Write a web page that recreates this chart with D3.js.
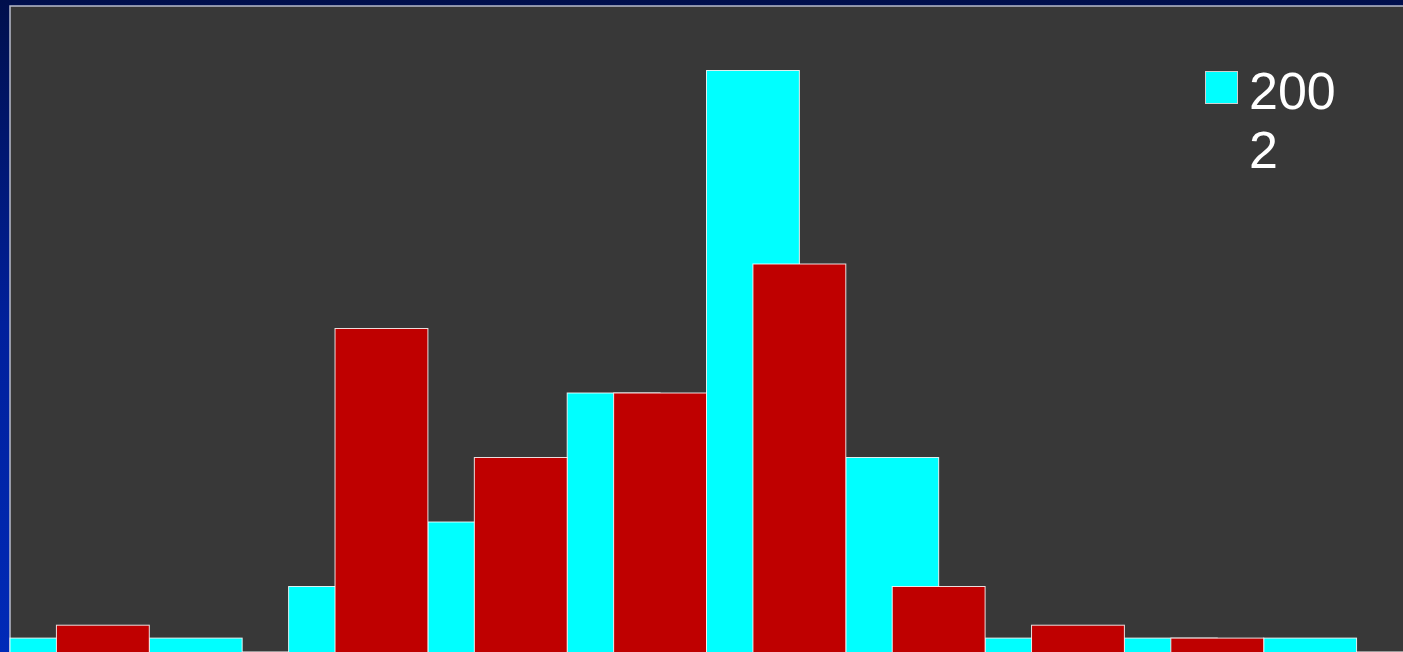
<!DOCTYPE html>
<html><head><meta charset="utf-8">
<script src="https://cdn.jsdelivr.net/npm/d3@7"></script>
<style>html,body{margin:0;padding:0;overflow:hidden;background:#001050}</style>
</head><body>
<svg id="c" width="1403" height="652"></svg>
<script>
const categories = ["1","2","3","4","5","6","7","8","9","10"];
const series2002 = [1,1,5,10,20,45,15,1,1,1];
const seriesOther = [2,0,25,15,20,30,5,2,1,0];
const legendLines = ["200","2"];

(function(){
const W = 1403, H = 652;
const svg = d3.select("#c");
const defs = svg.append("defs");
const grad = defs.append("linearGradient").attr("id","bg").attr("x1",0).attr("y1",0).attr("x2",0).attr("y2",1);
grad.append("stop").attr("offset","0%").attr("stop-color","#000f4c");
grad.append("stop").attr("offset","50%").attr("stop-color","#00209c");
grad.append("stop").attr("offset","100%").attr("stop-color","#002ab8");
svg.append("rect").attr("width",W).attr("height",H).attr("fill","url(#bg)");

const pLeft = 10, pTop = 6, pRight = 1403, pBottom = 651;
svg.append("rect").attr("x",pLeft).attr("y",pTop).attr("width",pRight-pLeft+5).attr("height",pBottom-pTop+5)
  .attr("fill","#383838").attr("stroke","#b8bccc").attr("stroke-width",1.5);
svg.append("line").attr("x1",pLeft).attr("x2",pRight).attr("y1",pBottom+0.5).attr("y2",pBottom+0.5)
  .attr("stroke","#9a9a9a").attr("stroke-width",1);

const x = d3.scaleBand().domain(categories).range([pLeft, pRight]).paddingInner(0).paddingOuter(0);
const y = d3.scaleLinear().domain([0,50]).range([pBottom, pTop]);
const bw = x.bandwidth() / 1.5;

const g = svg.append("g");
g.selectAll("rect.a").data(categories).join("rect").attr("class","a")
  .attr("x", d => x(d))
  .attr("y", (d,i) => y(series2002[i]))
  .attr("width", bw)
  .attr("height", (d,i) => y(0) - y(series2002[i]) + 2)
  .attr("fill","#00ffff").attr("stroke","#ffffff").attr("stroke-opacity",0.85).attr("stroke-width",1);
const redData = categories.map((c,i) => ({c, v: seriesOther[i]})).filter(d => d.v > 0);
g.selectAll("rect.b").data(redData).join("rect").attr("class","b")
  .attr("x", d => x(d.c) + bw/2)
  .attr("y", d => y(d.v))
  .attr("width", bw)
  .attr("height", d => y(0) - y(d.v) + 2)
  .attr("fill","#bf0000").attr("stroke","#ffffff").attr("stroke-opacity",0.85).attr("stroke-width",1);

const lg = svg.append("g");
lg.append("rect").attr("x",1205.5).attr("y",71.5).attr("width",32).attr("height",32)
  .attr("fill","#00ffff").attr("stroke","#d0d0d0").attr("stroke-width",1);
lg.append("text").attr("x",1249).attr("y",109).attr("fill","#ffffff")
  .attr("font-family","Liberation Sans, Arial, sans-serif").attr("font-size",52)
  .selectAll("tspan").data(legendLines).join("tspan")
  .attr("x",1249).attr("dy",(d,i)=> i===0?0:59).text(d=>d);
})();
</script>
</body></html>
